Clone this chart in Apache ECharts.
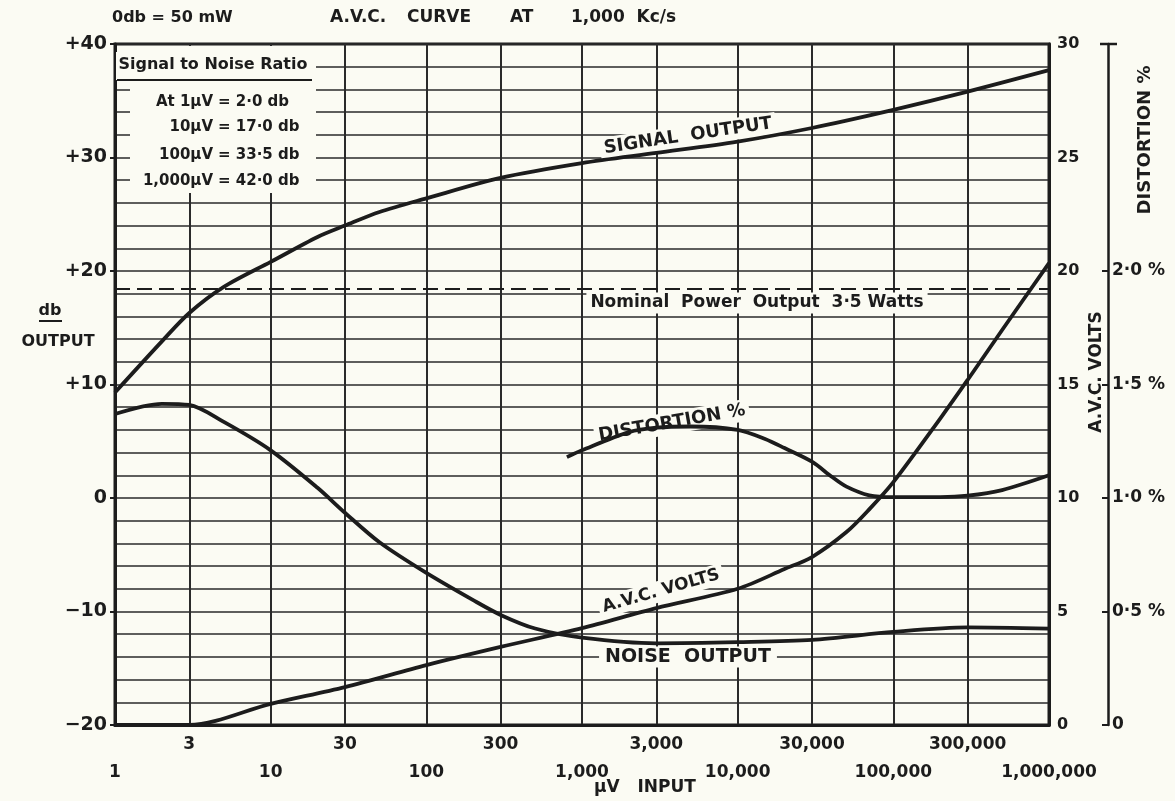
<!DOCTYPE html>
<html><head><meta charset="utf-8">
<script src="https://cdn.jsdelivr.net/npm/echarts@6/dist/echarts.min.js"></script>
<style>html,body{margin:0;padding:0;background:#fbfbf3}#c{width:1175px;height:801px}</style>
</head><body><div id="c"></div>
<script>
// ---- data ----
const thirdTicks = [3, 30, 300, 3000, 30000, 300000];
const distortionTicks = [0, 0.5, 1, 1.5, 2];
const distortionLabels = ['0', '0·5 %', '1·0 %', '1·5 %', '2·0 %'];
const nominalPowerDb = 18.45;

const signalX  = [1, 2, 3, 5, 10, 20, 30, 50, 100, 300, 1000, 3000, 10000, 30000, 100000, 300000, 1000000];
const signalDb = [9.3, 13.8, 16.3, 18.6, 20.8, 23.0, 24.0, 25.2, 26.4, 28.2, 29.5, 30.4, 31.4, 32.6, 34.2, 35.8, 37.7];

const noiseX  = [1, 2, 3, 5, 10, 20, 30, 50, 100, 200, 300, 500, 1000, 3000, 10000, 30000, 100000, 300000, 1000000];
const noiseDb = [7.4, 8.3, 8.2, 6.7, 4.2, 0.9, -1.3, -3.9, -6.6, -9.0, -10.3, -11.5, -12.3, -12.8, -12.7, -12.5, -11.8, -11.4, -11.5];

const avcX = [1, 3, 10, 30, 100, 300, 1000, 3000, 10000, 20000, 30000, 50000, 70000, 100000, 200000, 300000, 500000, 1000000];
const avcV = [0, 0, 0.93, 1.67, 2.64, 3.44, 4.27, 5.15, 6.0, 6.87, 7.4, 8.5, 9.5, 10.7, 13.5, 15.2, 17.4, 20.35];

const distX = [800, 1000, 2000, 3000, 5000, 10000, 15000, 20000, 30000, 40000, 50000, 70000, 100000, 200000, 300000, 500000, 1000000];
const distV = [1.18, 1.21, 1.29, 1.31, 1.315, 1.30, 1.26, 1.22, 1.16, 1.095, 1.05, 1.012, 1.004, 1.004, 1.01, 1.035, 1.10];

const snrInput = ['At 1μV', '10μV', '100μV', '1,000μV'];
const snrValue = ['= 2·0 db', '= 17·0 db', '= 33·5 db', '= 42·0 db'];

// ---- styling ----
const BG = '#fbfbf3', INK = '#1c1c1c', GRID = '#2a2a2a';
const FONT = 'DejaVu Sans';
const zip = (xs, ys) => xs.map((x, i) => [x, ys[i]]);
const fmtNum = v => Number(v).toLocaleString('en-US');
const deg = d => d * Math.PI / 180;

function T(x, y, text, o) {
  o = o || {};
  return {
    type: 'text', x: x, y: y, z: 1, rotation: o.rot ? deg(o.rot) : 0,
    style: {
      text: text, fill: INK, align: o.align || 'center', verticalAlign: 'middle',
      font: 'bold ' + (o.size || 15) + 'px "' + FONT + '"',
      backgroundColor: o.bg ? BG : null, padding: o.bg ? (o.pad || [2, 4]) : 0
    }
  };
}
function L(x1, y1, x2, y2, w) {
  return { type: 'line', z: 1, shape: { x1: x1, y1: y1, x2: x2, y2: y2 }, style: { stroke: INK, lineWidth: w || 2 } };
}

const graphics = [
  { type: 'rect', z: 1, shape: { x: 130, y: 46, width: 186, height: 147 }, style: { fill: BG } },
  { type: 'rect', z: 1, shape: { x: 116, y: 52, width: 200, height: 28 }, style: { fill: BG } },
  T(213, 65, 'Signal to Noise Ratio', { size: 16 }),
  L(117, 80, 312, 80, 2),
  T(112, 18, '0db = 50 mW', { align: 'left', size: 16 }),
  T(330, 18, 'A.V.C.', { align: 'left', size: 17 }),
  T(407, 18, 'CURVE', { align: 'left', size: 17 }),
  T(510, 18, 'AT', { align: 'left', size: 17 }),
  T(571, 18, '1,000  Kc/s', { align: 'left', size: 17 }),
  T(50, 311, 'db', { size: 16 }),
  L(39, 321, 62, 321, 2),
  T(58, 342, 'OUTPUT', { size: 16 }),
  T(645, 788, 'μV   INPUT', { size: 17 }),
  T(1097, 372, 'A.V.C. VOLTS', { size: 17, rot: 90 }),
  T(1145, 140, 'DISTORTION %', { size: 18, rot: 90 }),
  T(688, 136, 'SIGNAL  OUTPUT', { size: 18, rot: 8.5, bg: true }),
  T(757, 303, 'Nominal  Power  Output  3·5 Watts', { size: 17, bg: true }),
  T(672, 423, 'DISTORTION %', { size: 18, rot: 10, bg: true }),
  T(661, 591, 'A.V.C. VOLTS', { size: 17, rot: 16, bg: true }),
  T(688, 657, 'NOISE  OUTPUT', { size: 19, bg: true, pad: [1, 6] }),
  L(1100, 44, 1117, 44, 2.5)
];
snrInput.forEach((s, i) => {
  const y = [102, 127, 155, 181][i];
  graphics.push(T(213, y, s, { align: 'right', size: 15 }));
  graphics.push(T(218, y, snrValue[i], { align: 'left', size: 15 }));
});

const labelFont = { color: INK, fontFamily: FONT, fontWeight: 'bold', fontSize: 17 };
const curve = { type: 'line', symbol: 'none', smooth: 0.3, z: 2, lineStyle: { color: INK, width: 3.8 } };

const option = {
  backgroundColor: BG,
  animation: false,
  grid: { left: 115, right: 126, top: 44, bottom: 76, show: true, borderColor: INK, borderWidth: 3, backgroundColor: 'transparent' },
  xAxis: {
    type: 'log', logBase: 10, min: 1, max: 1000000,
    axisLine: { show: true, onZero: false, lineStyle: { color: INK, width: 3 } },
    axisTick: { show: false },
    axisLabel: Object.assign({ formatter: fmtNum, margin: 39 }, labelFont),
    splitLine: { show: true, lineStyle: { color: GRID, width: 2 } }
  },
  yAxis: [
    {
      type: 'value', min: -20, max: 40, interval: 10, position: 'left',
      axisLine: { show: true, onZero: false, lineStyle: { color: INK, width: 3 } },
      axisTick: { show: true, length: 5, lineStyle: { color: INK, width: 2 } },
      axisLabel: Object.assign({}, labelFont, { fontSize: 19, margin: 8,
        formatter: v => v > 0 ? '+' + v : (v < 0 ? '−' + Math.abs(v) : '0') }),
      splitLine: { show: true, lineStyle: { color: GRID, width: 1.6 } },
      minorTick: { show: false, splitNumber: 5 },
      minorSplitLine: { show: true, lineStyle: { color: GRID, width: 1.6 } }
    },
    {
      type: 'value', min: 0, max: 30, interval: 5, position: 'right',
      axisLine: { show: true, onZero: false, lineStyle: { color: INK, width: 3 } },
      axisTick: { show: false },
      axisLabel: Object.assign({}, labelFont, { fontSize: 16, margin: 8 }),
      splitLine: { show: false }
    },
    {
      type: 'value', min: 0, max: 3, interval: 0.5, position: 'right', offset: 59,
      axisLine: { show: true, onZero: false, lineStyle: { color: INK, width: 2.5 } },
      axisTick: { show: true, inside: true, length: 6, customValues: distortionTicks, lineStyle: { color: INK, width: 2 } },
      axisLabel: Object.assign({}, labelFont, { fontSize: 17, margin: 4, customValues: distortionTicks,
        formatter: v => { const i = distortionTicks.findIndex(t => Math.abs(t - v) < 1e-6); return i >= 0 ? distortionLabels[i] : ''; } }),
      splitLine: { show: false }
    }
  ],
  graphic: graphics,
  series: [
    Object.assign({}, curve, {
      name: 'Signal output', yAxisIndex: 0, data: zip(signalX, signalDb),
      markLine: {
        silent: true, symbol: 'none', animation: false,
        lineStyle: { color: INK, width: 2, type: [15, 7] },
        label: { show: false },
        data: [{ yAxis: nominalPowerDb }]
      }
    }),
    Object.assign({}, curve, {
      name: 'Noise output', yAxisIndex: 0, data: zip(noiseX, noiseDb),
      markLine: {
        silent: true, symbol: 'none', animation: false, z: 0,
        lineStyle: { color: GRID, width: 2, type: 'solid' },
        label: Object.assign({ show: true, position: 'start', distance: 11, formatter: p => fmtNum(p.value) }, labelFont),
        data: thirdTicks.map(v => ({ xAxis: v }))
      }
    }),
    Object.assign({}, curve, { name: 'A.V.C. volts', yAxisIndex: 1, data: zip(avcX, avcV) }),
    Object.assign({}, curve, { name: 'Distortion %', yAxisIndex: 2, data: zip(distX, distV) })
  ]
};
echarts.init(document.getElementById('c'), null, { renderer: 'canvas' }).setOption(option);
</script></body></html>
